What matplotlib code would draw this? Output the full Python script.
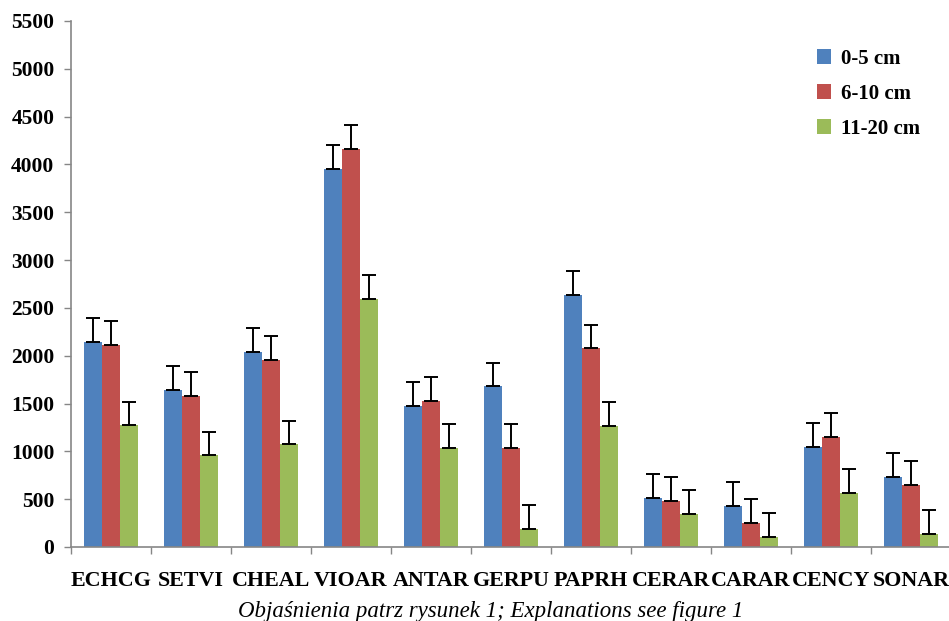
import numpy as np
import matplotlib
matplotlib.use("Agg")
import matplotlib.pyplot as plt

plt.rcParams['font.family'] = ['Liberation Serif', 'DejaVu Serif']

gatunki = ["ECHCG", "SETVI", "CHEAL", "VIOAR", "ANTAR", "GERPU",
           "PAPRH", "CERAR", "CARAR", "CENCY", "SONAR"]
serie = ["0-5 cm", "6-10 cm", "11-20 cm"]

# wartości
v_0_5 = [2145, 1642, 2040, 3950, 1475, 1683, 2635, 512, 430, 1046, 733]
v_6_10 = [2112, 1580, 1955, 4160, 1527, 1035, 2081, 481, 251, 1150, 648]
v_11_20 = [1276, 962, 1077, 2593, 1035, 188, 1265, 345, 105, 565, 136]

# odchylenia (tylko w górę)
e_0_5 = [250, 254, 248, 258, 250, 244, 248, 251, 254, 251, 253]
e_6_10 = [250, 247, 251, 251, 247, 255, 244, 251, 248, 248, 248]
e_11_20 = [243, 244, 244, 248, 255, 251, 248, 248, 247, 247, 251]

kolory = ["#4F81BD", "#C0504D", "#9BBB59"]
wartosci = [v_0_5, v_6_10, v_11_20]
bledy = [e_0_5, e_6_10, e_11_20]

fig = plt.figure(figsize=(9.49, 6.21), dpi=100)
ax = fig.add_axes([71/949, 74/621, 880/949, 526/621])

x = np.arange(len(gatunki))
szer = 0.225
for i in range(3):
    pos = x + (i - 1) * szer
    ax.bar(pos, wartosci[i], width=szer, color=kolory[i], label=serie[i], zorder=2)
    ax.errorbar(pos, wartosci[i], yerr=[np.zeros(len(gatunki)), bledy[i]],
                fmt='none', ecolor='black', elinewidth=1.4, capsize=5,
                capthick=1.4, zorder=3)

ax.set_xlim(-0.5, len(gatunki) - 0.5)
ax.set_ylim(0, 5500)
ax.set_yticks(np.arange(0, 5501, 500))
ax.tick_params(axis='y', labelsize=15.5, length=5, pad=7, color='#868686', width=1)
for t in ax.get_yticklabels():
    t.set_fontweight('bold')

ax.set_xticks(x)
ax.set_xticklabels(gatunki, fontsize=15.8, fontweight='bold')
ax.tick_params(axis='x', length=0, pad=17)
ax.set_xticks(np.arange(-0.5, len(gatunki)), minor=True)
ax.tick_params(axis='x', which='minor', length=5, color='#868686', width=1)

for s in ['top', 'right']:
    ax.spines[s].set_visible(False)
for s in ['left', 'bottom']:
    ax.spines[s].set_color('#868686')
    ax.spines[s].set_linewidth(1.2)

leg = ax.legend(loc='upper left', bbox_to_anchor=(798/949, 1 - 30/621),
                bbox_transform=fig.transFigure, frameon=False,
                prop={'size': 15, 'weight': 'bold'}, handlelength=0.7,
                handleheight=0.7, handletextpad=0.45, labelspacing=0.72)

fig.text(491/949, 1 - 611/621, "Objaśnienia patrz rysunek 1; Explanations see figure 1",
         ha='center', va='center', fontsize=16.5, style='italic')

fig.savefig("out.png", dpi=100)
